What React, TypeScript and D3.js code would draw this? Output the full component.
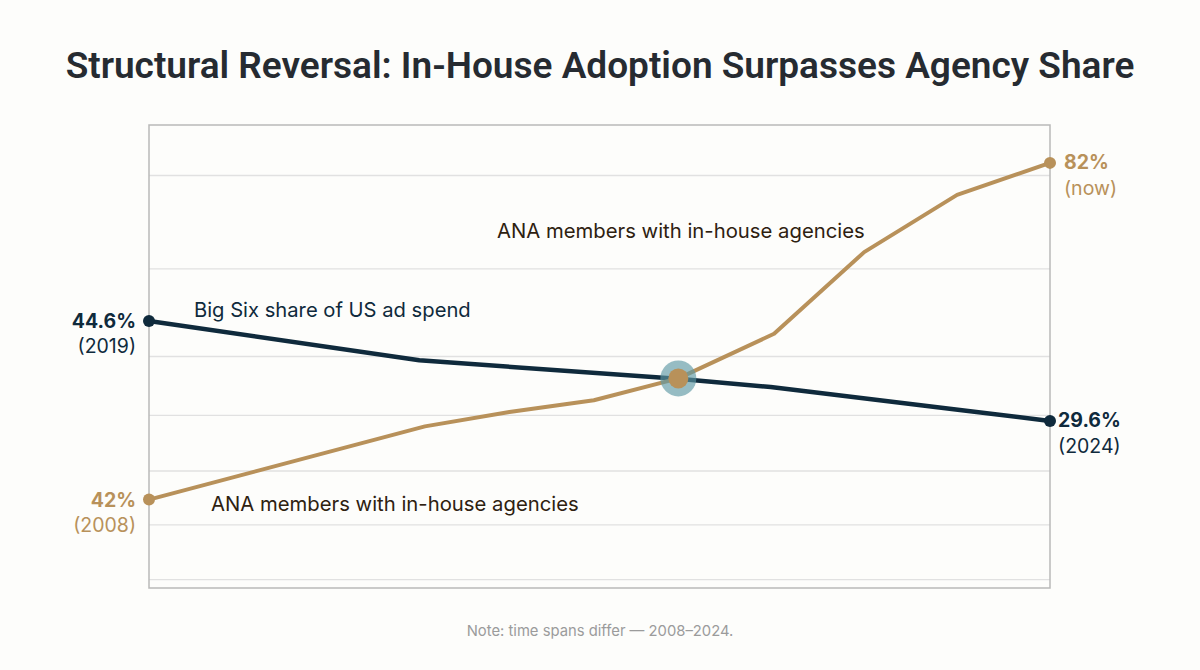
import React, { useEffect } from "react";
import * as d3 from "d3";

// ANA members with in-house agencies (2008 -> now)
const goldYears = [2008, 2012.9, 2014.4, 2015.9, 2017.4, 2019.1, 2020.7, 2022.35, 2024];
const goldValues = [42, 50.7, 52.4, 53.8, 56.4, 61.7, 71.4, 78.2, 82];

// Big Six share of US ad spend (2019 -> 2024)
const navyYears = [2019, 2020.5, 2021.95, 2022.45, 2023.5, 2024];
const navyValues = [44.6, 38.7, 35.9, 34.7, 31.25, 29.6];

// horizontal guide lines (in the in-house scale)
const gridValues = [32.5, 39, 45.4, 52, 59, 69.4, 80.5];

const crossIndex = 4; // gold point where the two lines meet

const GOLD = "#b8915a";
const NAVY = "#0f2a3c";
const FONT = "Inter, 'Noto Sans', sans-serif";

const W = 1200;
const H = 670;
const margin = { top: 125, right: 150, bottom: 82, left: 149 };

export default function App() {
  useEffect(() => {
    document.body.style.margin = "0";
  }, []);

  const x0 = margin.left;
  const x1 = W - margin.right;
  const y0 = margin.top;
  const y1 = H - margin.bottom;

  const xGold = d3.scaleLinear().domain([2008, 2024]).range([x0, x1]);
  const xNavy = d3.scaleLinear().domain([2019, 2024]).range([x0, x1]);
  const yGold = d3.scaleLinear().domain([31.5, 86.5]).range([y1, y0]);
  const yNavy = d3.scaleLinear().domain([4.55, 74]).range([y1, y0]);

  const gold = goldYears.map((yr, i) => [xGold(yr), yGold(goldValues[i])] as [number, number]);
  const navy = navyYears.map((yr, i) => [xNavy(yr), yNavy(navyValues[i])] as [number, number]);
  const line = d3.line();

  const gFirst = gold[0];
  const gLast = gold[gold.length - 1];
  const nFirst = navy[0];
  const nLast = navy[navy.length - 1];
  const cross = gold[crossIndex];

  return (
    <svg width={W} height={H} style={{ display: "block", background: "#fdfdfb" }} fontFamily={FONT}>
      <rect width={W} height={H} fill="#fdfdfb" />
      <text x={600} y={78} textAnchor="middle" fontFamily="Roboto, sans-serif" fontWeight={600} fontSize={37} fill="#262b31">
        Structural Reversal: In-House Adoption Surpasses Agency Share
      </text>

      {gridValues.map((v) => (
        <line key={v} x1={x0} x2={x1} y1={yGold(v)} y2={yGold(v)} stroke="#e1e1e1" strokeWidth={1.3} />
      ))}
      <rect x={x0} y={y0} width={x1 - x0} height={y1 - y0} fill="none" stroke="#b9b9b9" strokeWidth={1.5} />

      <path d={line(navy) ?? ""} fill="none" stroke={NAVY} strokeWidth={4.5} strokeLinejoin="round" />
      <path d={line(gold) ?? ""} fill="none" stroke={GOLD} strokeWidth={4} strokeLinejoin="round" />

      <circle cx={cross[0]} cy={cross[1]} r={18} fill="#5f9aa5" opacity={0.65} />
      <circle cx={cross[0]} cy={cross[1]} r={10} fill={GOLD} />

      {[gFirst, gLast].map((p, i) => (
        <circle key={"g" + i} cx={p[0]} cy={p[1]} r={6} fill={GOLD} />
      ))}
      {[nFirst, nLast].map((p, i) => (
        <circle key={"n" + i} cx={p[0]} cy={p[1]} r={6} fill={NAVY} />
      ))}

      {/* series labels */}
      <text x={194} y={317} fontSize={20.2} fill={NAVY}>Big Six share of US ad spend</text>
      <text x={497} y={238} fontSize={20.3} fill="#2e2110">ANA members with in-house agencies</text>
      <text x={211} y={511} fontSize={20.3} fill="#2e2110">ANA members with in-house agencies</text>

      {/* end labels */}
      <g fontSize={19.5} textAnchor="end">
        <text x={nFirst[0] - 13} y={nFirst[1] + 7} fontWeight={700} fill={NAVY}>{navyValues[0]}%</text>
        <text x={nFirst[0] - 13} y={nFirst[1] + 32} fill={NAVY}>({navyYears[0]})</text>
        <text x={gFirst[0] - 13} y={gFirst[1] + 7} fontWeight={700} fill={GOLD}>{goldValues[0]}%</text>
        <text x={gFirst[0] - 13} y={gFirst[1] + 32} fill={GOLD}>({goldYears[0]})</text>
      </g>
      <g fontSize={19.5}>
        <text x={gLast[0] + 14} y={gLast[1] + 6} fontWeight={700} fill={GOLD}>{goldValues[goldValues.length - 1]}%</text>
        <text x={gLast[0] + 14} y={gLast[1] + 32} fill={GOLD}>(now)</text>
        <text x={nLast[0] + 8} y={nLast[1] + 6} fontWeight={700} fill={NAVY}>{navyValues[navyValues.length - 1]}%</text>
        <text x={nLast[0] + 8} y={nLast[1] + 32} fill={NAVY}>({navyYears[navyYears.length - 1]})</text>
      </g>

      <text x={600} y={636} textAnchor="middle" fontSize={14.8} fill="#9b9b9b">
        Note: time spans differ — 2008–2024.
      </text>
    </svg>
  );
}
